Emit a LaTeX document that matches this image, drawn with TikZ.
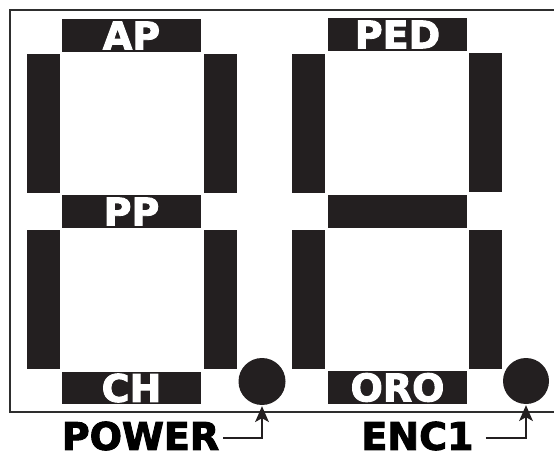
\documentclass[tikz,border=0pt]{standalone}
\usepackage{fontspec}
\newfontfamily\heavy{DejaVu Sans Bold}[FakeBold=2.5]
\definecolor{seg}{HTML}{231F20}
\definecolor{frm}{HTML}{2E2E2E}
\begin{document}
\begin{tikzpicture}[x=1pt,y=-1pt,
  lbl/.style={font=\heavy\fontsize{38}{40}\selectfont},
  segh/.style={fill=seg, inner sep=0pt, minimum width=139pt, minimum height=33pt, text=white, lbl},
  segv/.style={fill=seg, inner sep=0pt, minimum width=33pt, minimum height=139pt},
  led/.style={circle, fill=seg, inner sep=0pt, minimum size=47pt},
  tag/.style={lbl, text=black, inner sep=0pt},
  conn/.style={line width=1.7pt, draw=seg},
  head/.style={fill=seg}
]
\clip (0,0) rectangle (554,454);
\fill[white] (0,0) rectangle (554,454);
\draw[line width=2.2pt, frm] (10,10) rectangle (570,412);
% left digit
\node[segh] (ap) at (131.5,35.5) {AP};
\node[segv] (l1) at (43.5,123.5) {};
\node[segv] (r1) at (220.5,123.5) {};
\node[segh] (pp) at (131.5,211.5) {PP};
\node[segv] (l2) at (43.5,299.5) {};
\node[segv] (r2) at (220.5,299.5) {};
\node[segh, minimum height=32pt] (ch) at (131.5,388) {CH};
% right digit
\node[segh] (ped) at (397.5,34.5) {PED};
\node[segv] (l3) at (308.5,123.5) {};
\node[segv] (r3) at (485.5,122.5) {};
\node[segh] (mid) at (397.5,211.5) {};
\node[segv] (l4) at (308.5,299.5) {};
\node[segv] (r4) at (485.5,299.5) {};
\node[segh] (oro) at (397.5,387.5) {ORO};
% LEDs
\node[led] (pw) at (262,381.5) {};
\node[led, minimum size=46pt] (en) at (526,381) {};
% labels
\node[tag] (power) at (140.5,436) {POWER};
\node[tag] (enc) at (417.5,436) {ENC1};
\draw[conn] ([xshift=4pt,yshift=-2pt]power.east) -| ([yshift=-10pt]pw.south);
\draw[conn] ([xshift=12pt,yshift=-2pt]enc.east) -| ([yshift=-10pt]en.south);
\fill[head] ([yshift=-1pt]pw.south) -- ++(-7,16) -- ++(7,-4) -- ++(7,4) -- cycle;
\fill[head] ([yshift=-1pt]en.south) -- ++(-7,16) -- ++(7,-4) -- ++(7,4) -- cycle;
\end{tikzpicture}
\end{document}
